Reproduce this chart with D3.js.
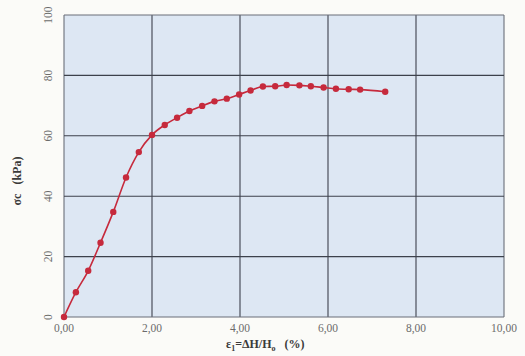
<!DOCTYPE html>
<html><head><meta charset="utf-8">
<script src="https://cdn.jsdelivr.net/npm/d3@7"></script>
<style>body{margin:0;background:#fbfbf8;} svg{display:block;} text{font-family:"Liberation Serif","Times New Roman","DejaVu Serif",serif;}</style>
</head><body>
<svg id="c" width="525" height="356"></svg>
<script>
const strain = [0,0.27,0.55,0.83,1.12,1.41,1.70,2.00,2.29,2.57,2.85,3.14,3.42,3.70,3.98,4.24,4.52,4.80,5.06,5.35,5.61,5.90,6.18,6.47,6.73,7.30];
const stress = [0,8.2,15.3,24.6,34.8,46.2,54.6,60.3,63.6,66.0,68.2,69.9,71.4,72.3,73.7,75.0,76.3,76.4,76.8,76.7,76.4,76.0,75.6,75.4,75.3,74.6];
const xTicks = [0,2,4,6,8,10];
const yTicks = [0,20,40,60,80,100];

const svg = d3.select("#c");
const L=64, R=504, T=15, B=317;
const x = d3.scaleLinear().domain([0,10]).range([L,R]);
const y = d3.scaleLinear().domain([0,100]).range([B,T]);
const fmt = d => d.toFixed(2).replace(".", ",");

svg.append("rect").attr("x",L).attr("y",T).attr("width",R-L).attr("height",B-T).attr("fill","#dde7f3");

const g = svg.append("g");
g.selectAll(".vx").data(xTicks).join("line")
  .attr("x1",d=>x(d)).attr("x2",d=>x(d)).attr("y1",T).attr("y2",B)
  .attr("stroke",d=>(d===0||d===10)?"#6a6f78":"#3c414b").attr("stroke-width",1.1);
g.selectAll(".hy").data(yTicks).join("line")
  .attr("y1",d=>y(d)).attr("y2",d=>y(d)).attr("x1",L).attr("x2",R)
  .attr("stroke",d=>(d===0||d===100)?"#6a6f78":"#3c414b").attr("stroke-width",1.1);

svg.selectAll(".xt").data(xTicks).join("text")
  .attr("x",d=>x(d)).attr("y",B+15).attr("text-anchor","middle")
  .attr("font-size",11.5).attr("fill","#6b6b6b")
  .text(fmt);
svg.selectAll(".yt").data(yTicks).join("text")
  .attr("transform",d=>`translate(52,${y(d)}) rotate(-90)`).attr("text-anchor","middle")
  .attr("font-size",11.5).attr("fill","#6b6b6b")
  .text(d=>d);

const xt = svg.append("text").attr("x",226).attr("y",348)
  .attr("font-size",12).attr("font-weight","bold").attr("fill","#3a3a3a");
xt.append("tspan").text("ε");
xt.append("tspan").attr("font-size",8).attr("dy",3).text("1");
xt.append("tspan").attr("dy",-3).text("=ΔH/H");
xt.append("tspan").attr("font-size",8).attr("dy",3).text("o");
xt.append("tspan").attr("dy",-3).text("\u00a0\u00a0\u00a0(%)");

svg.append("text").attr("transform","translate(21,181) rotate(-90)").attr("text-anchor","middle")
  .attr("font-size",12).attr("font-weight","bold").attr("fill","#3a3a3a")
  .text("σc\u00a0\u00a0\u00a0(kPa)");

const pts = strain.map((s,i)=>[s,stress[i]]);
svg.append("path").datum(pts)
  .attr("d",d3.line().x(d=>x(d[0])).y(d=>y(d[1])).curve(d3.curveMonotoneX))
  .attr("fill","none").attr("stroke","#c62a3c").attr("stroke-width",1.6);
svg.selectAll(".pt").data(pts).join("circle")
  .attr("cx",d=>x(d[0])).attr("cy",d=>y(d[1])).attr("r",3.2).attr("fill","#c62a3c");
</script>
</body></html>
